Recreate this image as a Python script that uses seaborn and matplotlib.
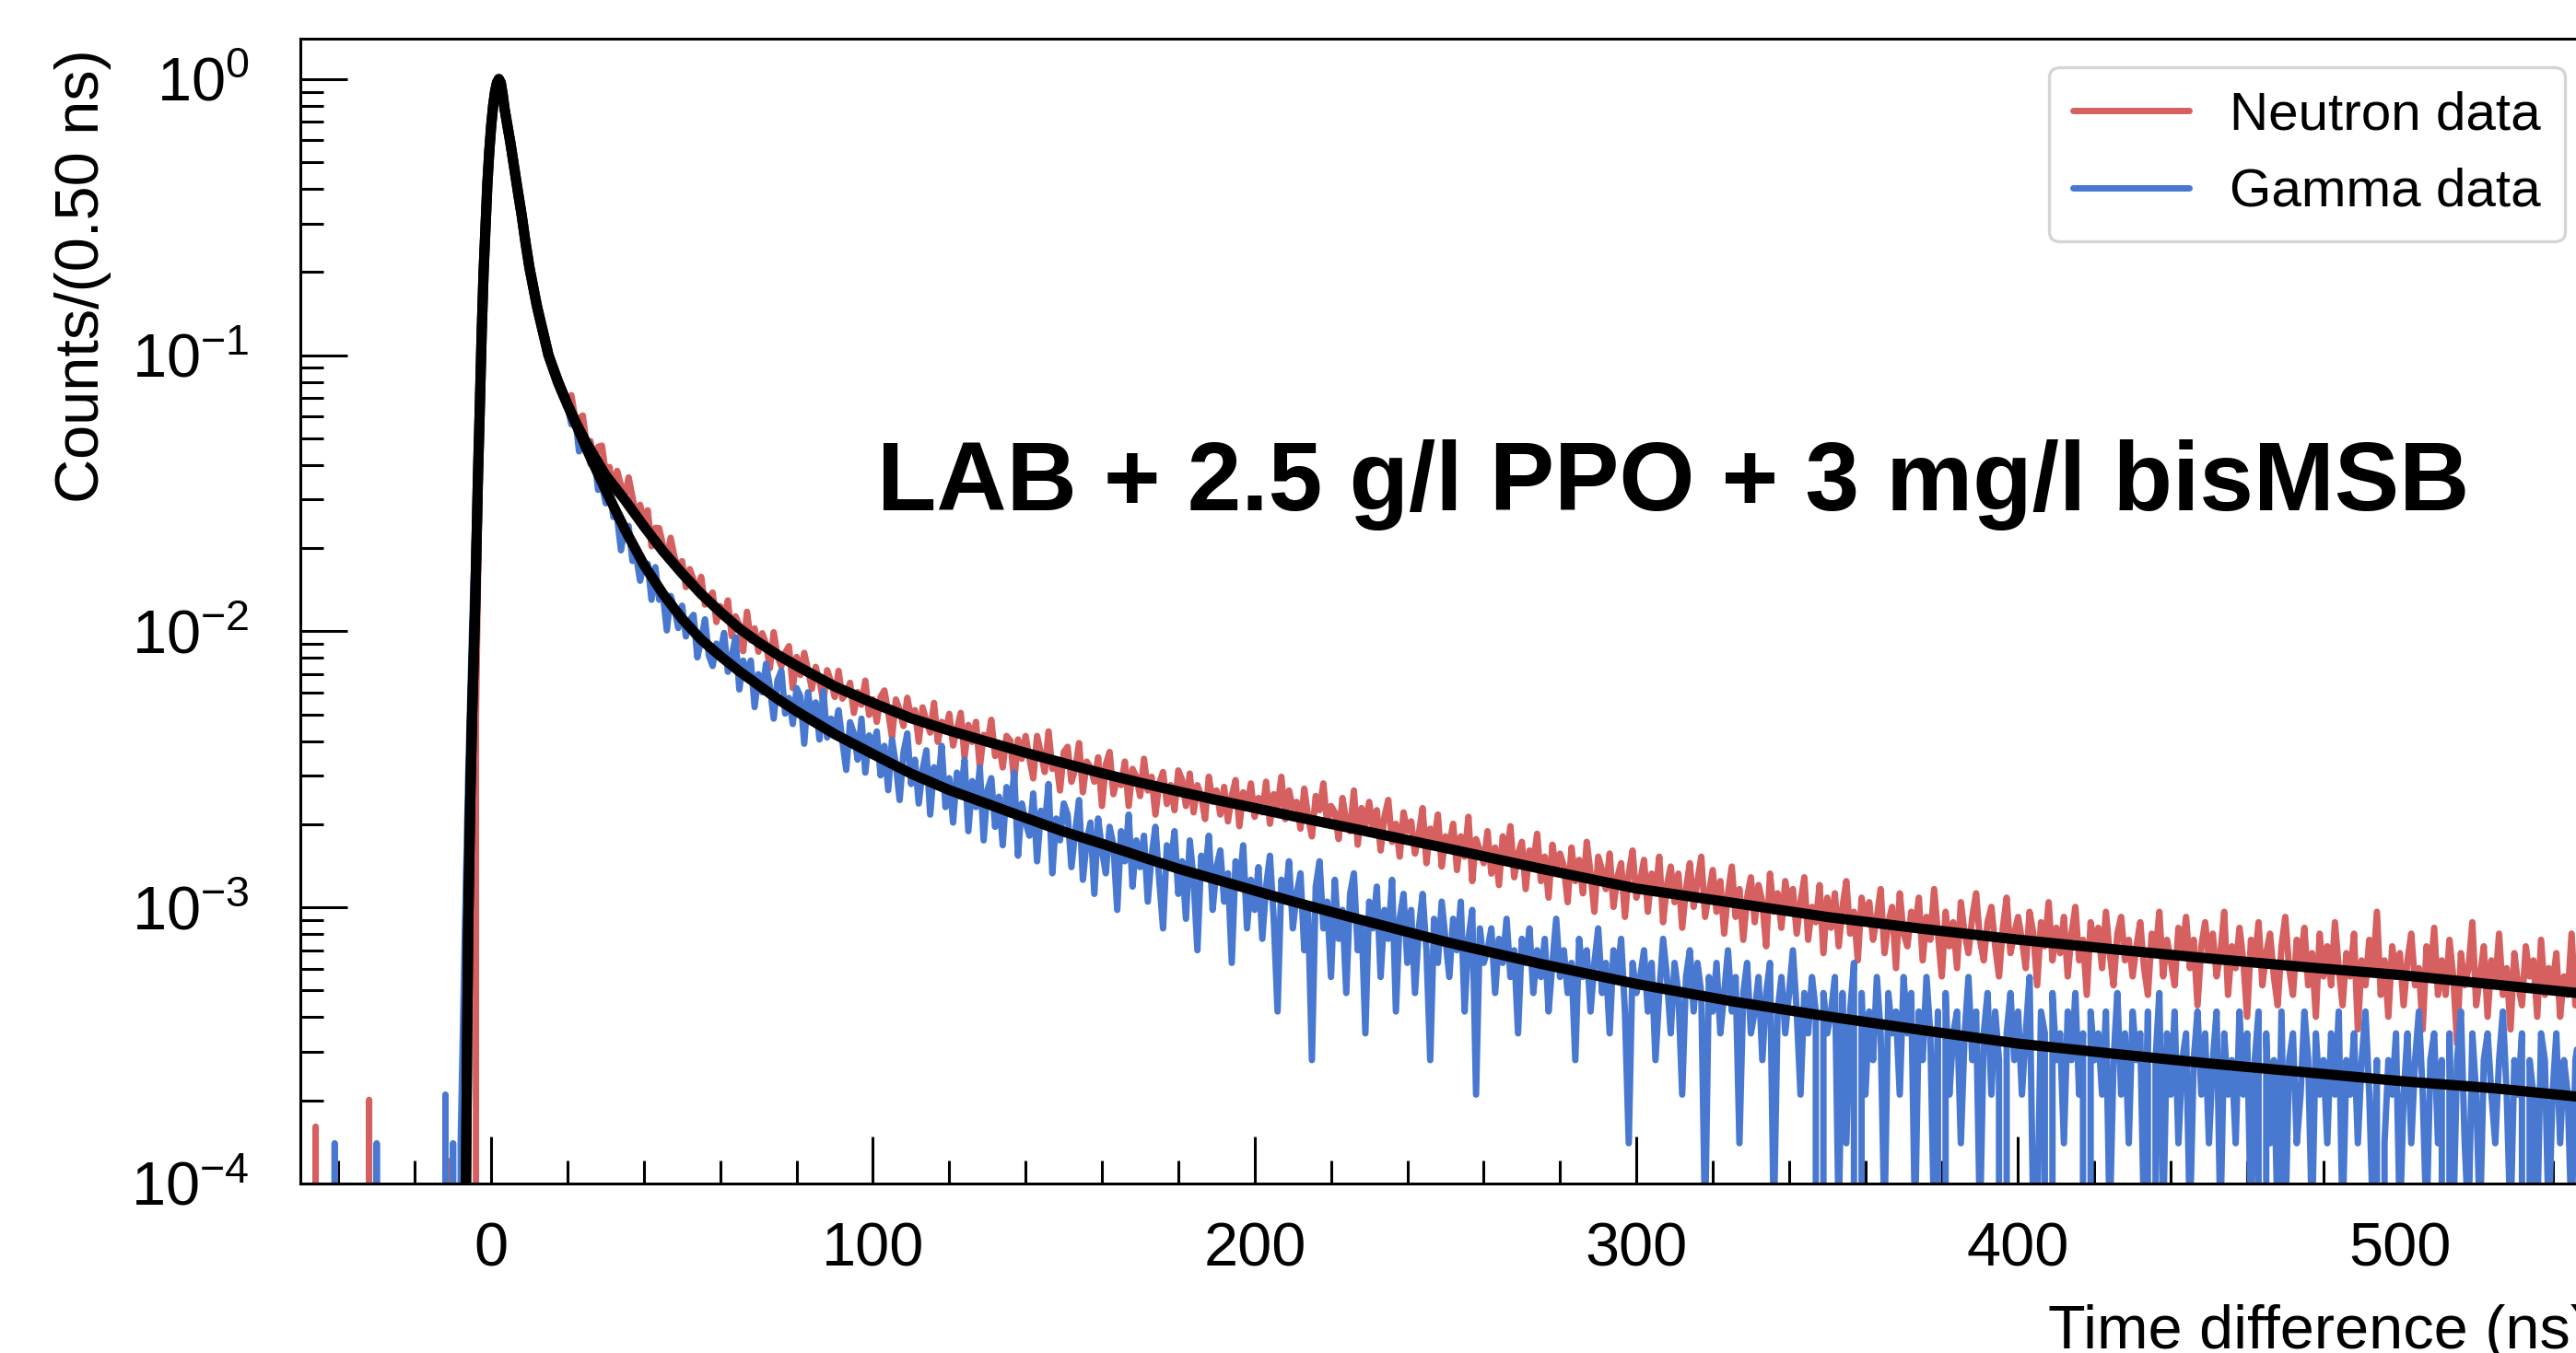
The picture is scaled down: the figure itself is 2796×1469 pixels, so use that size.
import numpy as np
import pandas as pd
import seaborn as sns
import matplotlib
matplotlib.use("Agg")
from matplotlib import pyplot as plt
from matplotlib.ticker import MultipleLocator, LogLocator, NullFormatter

# time axis of the histograms: 1 ns steps from t_start (ns)
t_start = -50

# neutron histogram (raw counts per 0.50 ns bin), t = -50 ... 550 ns
neutron_counts = [
    0, 0, 0, 0, 4, 0, 0, 0, 0, 0,                     # -50..-41
    0, 0, 0, 0, 0, 0, 0, 0, 5, 0,                     # -40..-31
    0, 0, 0, 0, 0, 0, 0, 0, 0, 0,                     # -30..-21
    0, 0, 0, 0, 0, 0, 0, 0, 0, 3,                     # -20..-11
    0, 0, 0, 0, 0, 0, 120, 1100, 4300, 10000,         # -10..-1
    17000,                                            # 0
    22600, 24900, 22000, 17800, 14650, 11900, 9760, 7920, 6400, 5230,
    4380, 3760, 3290, 2870, 2530, 2270, 2060, 1940, 1800, 1670,
    1784, 1467, 1473, 1505, 1175, 1216, 1021, 1160, 1171, 935,
    980, 787, 949, 840, 764, 898, 762, 648, 715, 631,
    683, 506, 590, 588, 510, 458, 543, 464, 421, 447,
    360, 418, 383, 344, 392, 311, 329, 344, 269, 307,
    278, 322, 239, 282, 262, 211, 293, 231, 255, 210,
    245, 224, 183, 247, 202, 186, 208, 220, 155, 201,
    173, 208, 180, 154, 185, 165, 138, 180, 164, 144,
    179, 142, 149, 162, 126, 150, 135, 165, 124, 141,
    117, 144, 152, 127, 103, 141, 129, 113, 143, 121,
    129, 99, 132, 118, 107, 137, 99, 117, 108, 125,
    96, 110, 126, 87, 114, 99, 117, 80, 105, 98,
    119, 88, 98, 80, 104, 100, 71, 101, 86, 104,
    86, 73, 104, 90, 77, 108, 79, 85, 66, 91,
    95, 71, 79, 98, 65, 84, 80, 71, 87, 58,
    82, 91, 64, 74, 69, 84, 58, 79, 74, 63,
    86, 66, 74, 54, 70, 77, 59, 69, 56, 78,
    72, 58, 76, 55, 69, 63, 52, 74, 60, 66,
    54, 68, 51, 63, 72, 49, 65, 57, 70, 53,
    62, 55, 71, 50, 64, 58, 74, 52, 66, 57,
    60, 48, 67, 53, 45, 63, 56, 70, 50, 58,
    55, 44, 62, 51, 47, 66, 42, 57, 49, 60,
    48, 56, 40, 53, 61, 43, 50, 38, 55, 47,
    51, 39, 46, 57, 36, 48, 43, 54, 35, 45,
    42, 50, 34, 45, 38, 53, 31, 44, 40, 36,
    47, 33, 41, 30, 45, 37, 49, 32, 39, 43,
    29, 40, 36, 46, 31, 38, 27, 42, 34, 39,
    35, 26, 41, 31, 37, 28, 43, 33, 24, 38,
    34, 29, 39, 25, 32, 36, 23, 33, 40, 27,
    31, 37, 24, 33, 28, 38, 22, 30, 35, 26,
    33, 21, 29, 36, 25, 31, 38, 23, 28, 34,
    24, 31, 20, 28, 35, 23, 29, 19, 27, 32,
    22, 30, 26, 18, 33, 24, 28, 21, 31, 25,
    29, 20, 26, 32, 19, 25, 22, 30, 17, 27,
    21, 28, 18, 25, 31, 20, 24, 16, 27, 22,
    26, 19, 23, 29, 17, 22, 25, 15, 28, 20,
    18, 24, 21, 27, 16, 23, 19, 29, 20, 14,
    24, 18, 22, 15, 26, 20, 17, 23, 28, 19,
    16, 22, 25, 18, 14, 21, 27, 17, 20, 23,
    19, 15, 24, 20, 13, 22, 18, 26, 16, 21,
    17, 23, 14, 20, 25, 16, 19, 12, 22, 18,
    21, 15, 24, 17, 13, 20, 23, 16, 19, 14,
    18, 22, 15, 12, 20, 17, 24, 14, 19, 16,
    13, 21, 17, 23, 15, 19, 11, 18, 22, 16,
    20, 14, 17, 24, 12, 18, 15, 21, 16, 10,
    19, 16, 22, 13, 17, 20, 14, 11, 18, 23,
    15, 12, 19, 16, 21, 13, 17, 10, 20, 14,
    18, 13, 22, 15, 11, 17, 14, 20, 9, 16,
    13, 19, 15, 24, 12, 16, 10, 18, 14, 17,
    11, 16, 20, 13, 15, 9, 18, 14, 21, 12,
    16, 12, 19, 14, 8, 17, 13, 15, 22, 11,
    14, 18, 10, 16, 13, 20, 12, 15, 9, 17,
    13, 11, 18, 14, 16, 10, 19, 12, 15, 13,
    17, 10, 14, 12, 20, 11, 15, 13, 9, 16,
]

# gamma histogram (raw counts per 0.50 ns bin), t = -50 ... 550 ns
gamma_counts = [
    0, 0, 0, 0, 0, 0, 0, 0, 0, 2,                     # -50..-41
    0, 0, 0, 0, 0, 0, 0, 0, 0, 0,                     # -40..-31
    2, 0, 0, 0, 0, 0, 0, 0, 0, 0,                     # -30..-21
    0, 0, 0, 0, 0, 0, 0, 0, 3, 0,                     # -20..-11
    2, 0, 2, 10, 45, 150, 420, 1150, 3050, 6300,      # -10..-1
    9900,                                             # 0
    13000, 14300, 12600, 10200, 8420, 6880, 5560, 4570, 3660, 2990,
    2520, 2150, 1860, 1620, 1440, 1270, 1150, 1050, 985, 930,
    803, 851, 641, 698, 672, 577, 616, 465, 487, 416,
    466, 371, 368, 281, 343, 344, 257, 266, 218, 251,
    251, 186, 244, 186, 193, 144, 192, 173, 147, 177,
    137, 157, 164, 115, 133, 158, 117, 107, 129, 119,
    141, 102, 116, 136, 88, 112, 99, 112, 76, 100,
    86, 109, 90, 69, 95, 103, 72, 82, 66, 89,
    83, 56, 86, 68, 79, 58, 87, 59, 69, 63,
    74, 57, 45, 67, 61, 49, 69, 44, 60, 54,
    62, 43, 55, 38, 58, 47, 35, 52, 61, 40,
    49, 34, 45, 53, 31, 46, 39, 55, 33, 42,
    29, 44, 36, 49, 27, 41, 33, 46, 25, 38,
    42, 28, 36, 24, 39, 31, 44, 22, 34, 29,
    26, 37, 21, 32, 28, 40, 19, 30, 25, 34,
    31, 20, 27, 35, 18, 25, 29, 16, 30, 23,
    19, 28, 24, 14, 27, 21, 31, 17, 25, 20,
    26, 15, 22, 28, 18, 12, 24, 20, 27, 16,
    21, 13, 25, 18, 10, 22, 19, 26, 14, 20,
    23, 15, 19, 9, 21, 17, 24, 12, 18, 14,
    20, 11, 17, 22, 13, 6, 18, 15, 21, 12,
    16, 19, 10, 14, 4, 17, 21, 12, 15, 8,
    18, 11, 14, 7, 16, 19, 10, 13, 5, 15,
    12, 17, 8, 14, 11, 18, 6, 13, 16, 9,
    14, 7, 12, 16, 10, 4, 13, 9, 15, 11,
    8, 13, 10, 15, 6, 11, 14, 3, 12, 9,
    10, 12, 7, 11, 9, 13, 8, 10, 5, 11,
    9, 12, 7, 10, 8, 11, 6, 9, 13, 8,
    10, 7, 9, 4, 11, 8, 10, 6, 9, 12,
    7, 9, 5, 10, 8, 11, 6, 2, 9, 7,
    8, 10, 6, 9, 4, 7, 11, 8, 5, 9,
    7, 3, 8, 10, 6, 9, 7, 1, 8, 6,
    9, 5, 7, 10, 6, 8, 2, 7, 9, 5,
    6, 8, 4, 7, 9, 1, 6, 8, 5, 7,
    10, 6, 3, 7, 5, 8, 6, 0, 7, 5,
    6, 8, 1, 7, 2, 6, 9, 0, 7, 3,
    6, 4, 8, 5, 1, 7, 5, 6, 3, 8,
    5, 7, 1, 6, 4, 8, 5, 1, 6, 0,
    7, 3, 5, 6, 2, 5, 8, 4, 6, 1,
    5, 7, 3, 6, 4, 0, 5, 7, 4, 6,
    3, 5, 8, 1, 1, 6, 5, 0, 7, 4,
    5, 2, 6, 4, 7, 3, 5, 0, 6, 4,
    5, 3, 6, 1, 4, 7, 3, 5, 2, 6,
    4, 5, 1, 6, 0, 4, 7, 1, 5, 3,
    6, 2, 4, 5, 1, 4, 6, 3, 5, 2,
    4, 6, 1, 5, 3, 4, 2, 6, 3, 5,
    1, 4, 6, 0, 5, 2, 4, 1, 6, 1,
    4, 5, 2, 3, 6, 4, 1, 5, 3, 4,
    2, 5, 3, 6, 1, 4, 3, 5, 2, 4,
    6, 3, 1, 4, 0, 2, 4, 3, 5, 1,
    3, 5, 2, 4, 6, 3, 1, 4, 5, 2,
    4, 0, 5, 1, 4, 6, 2, 1, 5, 3,
    1, 4, 5, 3, 2, 4, 6, 3, 1, 4,
    3, 5, 0, 4, 3, 1, 5, 4, 1, 3,
    5, 2, 4, 3, 1, 4, 5, 2, 3, 4,
]

# fitted pulse shapes (normalised), sampled at fit_t
fit_t = [-8, -7, -6.6, -6.3, -6, -5.5, -5, -4.2, -3.5, -3, -2.5, -2, -1.5, -1, -0.5,
         0, 0.5, 1, 1.5, 2, 2.5, 3, 3.5, 4, 5, 6, 7, 8, 9, 10, 12, 15,
         17.5, 20, 22.5, 25, 30, 35, 40, 45, 50, 55, 60, 65, 70, 75, 80, 90, 100,
         110, 120, 130, 140, 150, 160, 170, 180, 190, 200, 210, 225, 250, 275,
         300, 325, 350, 375, 400, 425, 450, 475, 500, 525, 550]
fit_peak = [1e-6, 1.5e-5, 1e-4, 3.5e-4, 9e-4, 2.4e-3, 5e-3, 0.0124, 0.035, 0.064,
            0.12, 0.20, 0.29, 0.42, 0.55, 0.68, 0.80, 0.90, 0.97, 1.0, 0.97, 0.88,
            0.78, 0.71, 0.59, 0.48, 0.39, 0.32, 0.255, 0.208, 0.15, 0.10]
neutron_fit_tail = [0.0804, 0.0661, 0.0558, 0.0479, 0.0367, 0.0299, 0.0240, 0.0195,
                    0.0162, 0.01365, 0.01175, 0.01023, 0.00912, 0.00822, 0.00750,
                    0.00631, 0.00550, 0.00484, 0.00437, 0.00398, 0.00363, 0.00333,
                    0.00306, 0.00283, 0.00263, 0.00245, 0.00229, 0.00214, 0.00194,
                    0.00164, 0.00138, 0.00117, 0.00104, 0.000923, 0.000836, 0.000764,
                    0.000705, 0.000653, 0.000608, 0.000569, 0.000525, 0.000484]
gamma_fit_tail = [0.0795, 0.0661, 0.0550, 0.0457, 0.0324, 0.0234, 0.0174, 0.01365,
                  0.0111, 0.00933, 0.00813, 0.00716, 0.00638, 0.00569, 0.00513,
                  0.00424, 0.00359, 0.00305, 0.00266, 0.00237, 0.00211, 0.00188,
                  0.0017, 0.00153, 0.00138, 0.00126, 0.00115, 0.00105, 0.000923,
                  0.00075, 0.000624, 0.000528, 0.000457, 0.000403, 0.000359,
                  0.000321, 0.000295, 0.000272, 0.000253, 0.000235, 0.000221, 0.000204]

red = "#d65f5f"
blue = "#4878d0"

# normalise histograms to their maximum
df_n = pd.DataFrame({"t": t_start + np.arange(len(neutron_counts)),
                     "y": np.array(neutron_counts) / max(neutron_counts)})
df_g = pd.DataFrame({"t": t_start + np.arange(len(gamma_counts)),
                     "y": np.array(gamma_counts) / max(gamma_counts)})
df_fit = pd.DataFrame({"t": fit_t,
                       "neutron": fit_peak + neutron_fit_tail,
                       "gamma": fit_peak + gamma_fit_tail})

sns.set_theme(style="ticks")
plt.rcParams["font.family"] = ["Liberation Sans", "DejaVu Sans"]
plt.rcParams.update({
    "axes.linewidth": 1.1, "axes.edgecolor": "black", "axes.labelcolor": "black",
    "text.color": "black", "xtick.color": "black", "ytick.color": "black",
})

fig = plt.figure(figsize=(13.98, 7.345), dpi=200)
# axes run a little past the right edge of the picture
ax = fig.add_axes([0.1166, 0.1253, 0.8891, 0.8462])

line_kw = dict(estimator=None, errorbar=None, lw=2.5,
               solid_joinstyle="round", solid_capstyle="round")
sns.lineplot(data=df_n, x="t", y="y", color=red, label="Neutron data", ax=ax, **line_kw)
sns.lineplot(data=df_g, x="t", y="y", color=blue, label="Gamma data", ax=ax, **line_kw)
fit_kw = dict(estimator=None, errorbar=None, lw=4.0, color="black",
              solid_joinstyle="round", solid_capstyle="round")
sns.lineplot(data=df_fit, x="t", y="neutron", ax=ax, **fit_kw)
sns.lineplot(data=df_fit, x="t", y="gamma", ax=ax, **fit_kw)

ax.set_yscale("log")
ax.set_xlim(-50, 550)
ax.set_ylim(1e-4, 1.402)

ax.xaxis.set_major_locator(MultipleLocator(100))
ax.xaxis.set_minor_locator(MultipleLocator(20))
ax.yaxis.set_major_locator(LogLocator(base=10))
ax.yaxis.set_minor_locator(LogLocator(base=10, subs=np.arange(2, 10)))
ax.yaxis.set_minor_formatter(NullFormatter())

ax.tick_params(which="major", direction="in", length=18.5, width=1.1,
               labelsize=24, colors="black", bottom=True, left=True,
               top=False, right=False)
ax.tick_params(which="minor", direction="in", length=9, width=1.1,
               bottom=True, left=True, top=False, right=False)
ax.tick_params(axis="x", which="major", pad=15)
ax.tick_params(axis="y", which="major", pad=20)

ax.set_xlabel("Time difference (ns)", fontsize=24)
ax.xaxis.set_label_coords(1.0, -0.144)
ax.xaxis.label.set_ha("right")
ax.xaxis.label.set_va("baseline")

ax.set_ylabel("Counts/(0.50 ns)", fontsize=24)
ax.yaxis.set_label_coords(-0.088, 0.991)
ax.yaxis.label.set_ha("right")
ax.yaxis.label.set_va("baseline")

ax.text(101, 0.0275, "LAB + 2.5 g/l PPO + 3 mg/l bisMSB", fontsize=38,
        fontweight="bold", color="black", ha="left", va="baseline")

handles = ax.get_lines()[:2]
leg = ax.legend(handles=handles, labels=["Neutron data", "Gamma data"],
                loc="upper right", bbox_to_anchor=(0.9887, 0.9753), borderaxespad=0,
                fontsize=21, handlelength=2.15, handletextpad=0.76,
                labelspacing=0.5, borderpad=0.45, frameon=True, fancybox=True,
                framealpha=1, edgecolor="#d5d5d5")
leg.get_frame().set_linewidth(1.2)

fig.savefig("out.png", dpi=200)
